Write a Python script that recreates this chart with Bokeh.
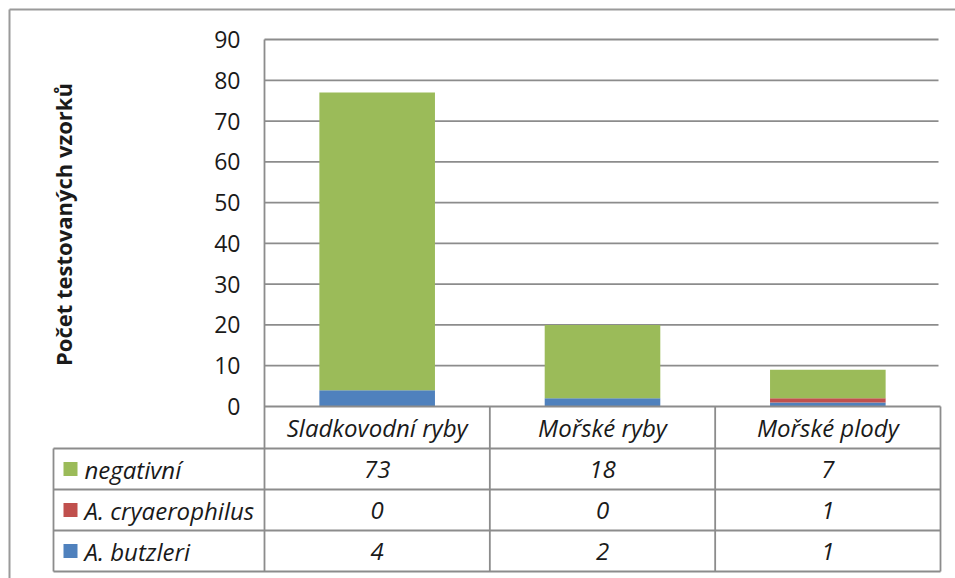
import math
from bokeh.plotting import figure
from bokeh.models import ColumnDataSource, Range1d
from bokeh.core.properties import value
from bokeh.embed import file_html
from bokeh.resources import INLINE

# ---- data ----
categories = ["Sladkovodní ryby", "Mořské ryby", "Mořské plody"]
series_names = ["negativní", "A. cryaerophilus", "A. butzleri"]
negativni = [73, 18, 7]
cryaerophilus = [0, 0, 1]
butzleri = [4, 2, 1]
y_ticks = [0, 10, 20, 30, 40, 50, 60, 70, 80, 90]
y_title = "Počet testovaných vzorků"

colors = {"negativní": "#9BBB59", "A. cryaerophilus": "#C0504D", "A. butzleri": "#4F81BD"}
LINE = "#8C8C8C"
TXT = "#1a1a1a"
FONT = "Open Sans"

W, H = 955, 578
ORG = 0  # window offset of the canvas
# pixel layout (window coordinates) -> data conversions
PX_LEFT, PX_RIGHT = 264.0, 940.0
PX_ZERO, PX_NINETY = 406.0, 39.0
XU = (PX_RIGHT - PX_LEFT) / len(categories)
YU = (PX_ZERO - PX_NINETY) / 90.0

def dx(px):
    return (px - PX_LEFT) / XU

def dy(py):
    return (PX_ZERO - py) / YU

p = figure(width=W, height=H, output_backend="svg", toolbar_location=None,
           x_range=Range1d(dx(ORG), dx(ORG + W)), y_range=Range1d(dy(ORG + H), dy(ORG)),
           min_border=0, min_border_left=0, min_border_right=0,
           min_border_top=0, min_border_bottom=0)
p.axis.visible = False
p.grid.visible = False
p.outline_line_color = None
p.background_fill_color = "white"
p.border_fill_color = "white"

ncat = len(categories)
xc = [i + 0.5 for i in range(ncat)]

# gridlines
gt = [t for t in y_ticks if t > 0]
p.segment(x0=[0] * len(gt), x1=[dx(938)] * len(gt), y0=gt, y1=gt,
          line_color=LINE, line_width=1.8)

# stacked bars
src = ColumnDataSource(dict(x=xc, butz=butzleri, cry=cryaerophilus, neg=negativni))
p.vbar_stack(["butz", "cry", "neg"], x="x", width=0.513, source=src,
             color=[colors["A. butzleri"], colors["A. cryaerophilus"], colors["negativní"]],
             line_color=None)

# plot-area left border / axis line
p.segment(x0=[0], x1=[0], y0=[90], y1=[dy(571)], line_color=LINE, line_width=1.8)

# table lines
row_edges = [448, 489, 530, 571]
p.segment(x0=[0], x1=[dx(940)], y0=[0], y1=[0], line_color=LINE, line_width=1.8)
p.segment(x0=[dx(53)] * len(row_edges), x1=[dx(940)] * len(row_edges),
          y0=[dy(r) for r in row_edges], y1=[dy(r) for r in row_edges],
          line_color=LINE, line_width=1.8)
vx = [i for i in range(1, ncat + 1)]
p.segment(x0=vx, x1=vx, y0=[0] * len(vx), y1=[dy(571)] * len(vx),
          line_color=LINE, line_width=1.8)
p.segment(x0=[dx(53)], x1=[dx(53)], y0=[dy(448)], y1=[dy(571)],
          line_color=LINE, line_width=1.8)

# outer chart border (top and left)
p.segment(x0=[dx(9), dx(9)], x1=[dx(9), dx(ORG + W)], y0=[dy(9), dy(9)], y1=[dy(ORG + H), dy(9)],
          line_color="#9a9a9a", line_width=2)

# y tick labels
p.text(x=[dx(240)] * len(y_ticks), y=y_ticks, text=[str(t) for t in y_ticks],
       text_align="right", text_baseline="middle", text_font=value(FONT),
       text_font_size="23px", text_color=TXT)

# y title
p.text(x=[dx(62)], y=[dy(224)], text=[y_title], angle=math.pi / 2,
       text_align="center", text_baseline="middle", text_font=value(FONT),
       text_font_size="22px", text_font_style="bold", text_color=TXT)

# category header
p.text(x=xc, y=[dy(427)] * ncat, text=categories, text_align="center",
       text_baseline="middle", text_font=value(FONT), text_font_size="24px",
       text_font_style="italic", text_color=TXT)

# table rows
rows = [negativni, cryaerophilus, butzleri]
row_centers = [468.5, 509.5, 550.5]
for name, vals, rc in zip(series_names, rows, row_centers):
    p.scatter(x=[dx(70)], y=[dy(rc)], marker="square", size=14,
              fill_color=colors[name], line_color=None)
    p.text(x=[dx(84)], y=[dy(rc)], text=[name], text_align="left",
           text_baseline="middle", text_font=value(FONT), text_font_size="24px",
           text_font_style="italic", text_color=TXT)
    p.text(x=xc, y=[dy(rc)] * ncat, text=[str(v) for v in vals], text_align="center",
           text_baseline="middle", text_font=value(FONT), text_font_size="24px",
           text_font_style="italic", text_color=TXT)

open("out.html", "w").write(file_html(p, INLINE))
